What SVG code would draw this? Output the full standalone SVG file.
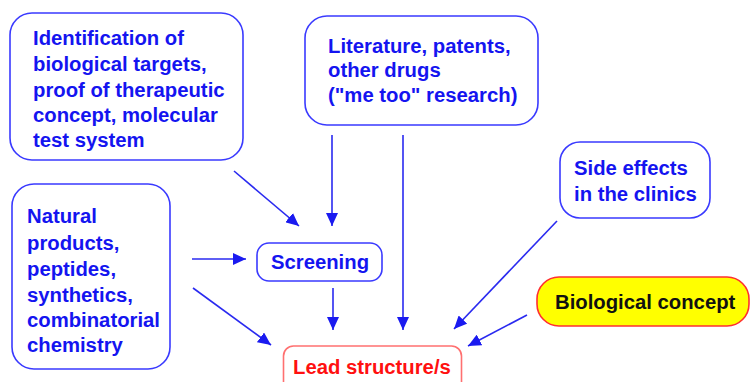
<svg xmlns="http://www.w3.org/2000/svg" width="750" height="382" viewBox="0 0 750 382">
<defs>
<style>
.box{fill:#fff;stroke:#3a3aff;stroke-width:1.6}
.t{font-family:"Liberation Sans",Arial,sans-serif;font-weight:bold;font-size:20.3px;fill:#1414f0}
.c{stroke:#2a2af0;stroke-width:1.6;fill:none;marker-end:url(#ah)}
</style>
<marker id="ah" markerUnits="userSpaceOnUse" markerWidth="14" markerHeight="12" refX="13" refY="6" orient="auto">
<path d="M0,0 L13,6 L0,12 z" fill="#1a1af0"/>
</marker>
</defs>
<g id="n-identification">
<rect class="box" x="10" y="13" width="233" height="147" rx="22"/>
<text class="t"><tspan x="33" y="45">Identification of</tspan><tspan x="33" y="70.5">biological targets,</tspan><tspan x="33" y="96.5">proof of therapeutic</tspan><tspan x="33" y="121.5">concept, molecular</tspan><tspan x="33" y="147">test system</tspan></text>
</g>
<g id="n-literature">
<rect class="box" x="305" y="16" width="233" height="109" rx="22"/>
<text class="t"><tspan x="328" y="53">Literature, patents,</tspan><tspan x="328" y="77">other drugs</tspan><tspan x="328" y="101.5">("me too" research)</tspan></text>
</g>
<g id="n-natural">
<rect class="box" x="12" y="184" width="158" height="185" rx="22"/>
<text class="t"><tspan x="27" y="222.5">Natural</tspan><tspan x="27" y="249.5">products,</tspan><tspan x="27" y="276">peptides,</tspan><tspan x="27" y="301.5">synthetics,</tspan><tspan x="27" y="326.5">combinatorial</tspan><tspan x="27" y="351.5">chemistry</tspan></text>
</g>
<g id="n-screening">
<rect class="box" x="257" y="243" width="125" height="38" rx="12"/>
<text class="t" x="320" y="268.5" text-anchor="middle">Screening</text>
</g>
<g id="n-side">
<rect class="box" x="560" y="142" width="150" height="76" rx="20"/>
<text class="t"><tspan x="574" y="175">Side effects</tspan><tspan x="574" y="201">in the clinics</tspan></text>
</g>
<g id="n-bio">
<rect x="537" y="277" width="212" height="49" rx="22" fill="#ffff00" stroke="#ff3030" stroke-width="1.6"/>
<text class="t" x="555" y="308.5" style="fill:#111">Biological concept</text>
</g>
<g id="n-lead">
<rect x="283.5" y="346" width="178" height="50" rx="10" fill="#fff" stroke="#ff7070" stroke-width="1.6"/>
<text class="t" x="293" y="374" style="fill:#ff1010">Lead structure/s</text>
</g>
<g id="connectors">
<line class="c" x1="234" y1="171" x2="299" y2="226"/>
<line class="c" x1="332" y1="135" x2="332" y2="226"/>
<line class="c" x1="403" y1="135" x2="403" y2="330"/>
<line class="c" x1="192" y1="259" x2="246" y2="259"/>
<line class="c" x1="193" y1="288" x2="271" y2="345"/>
<line class="c" x1="333" y1="288" x2="333" y2="330"/>
<line class="c" x1="557" y1="221" x2="454" y2="329"/>
<line class="c" x1="527" y1="315" x2="468" y2="346"/>
</g>
</svg>
